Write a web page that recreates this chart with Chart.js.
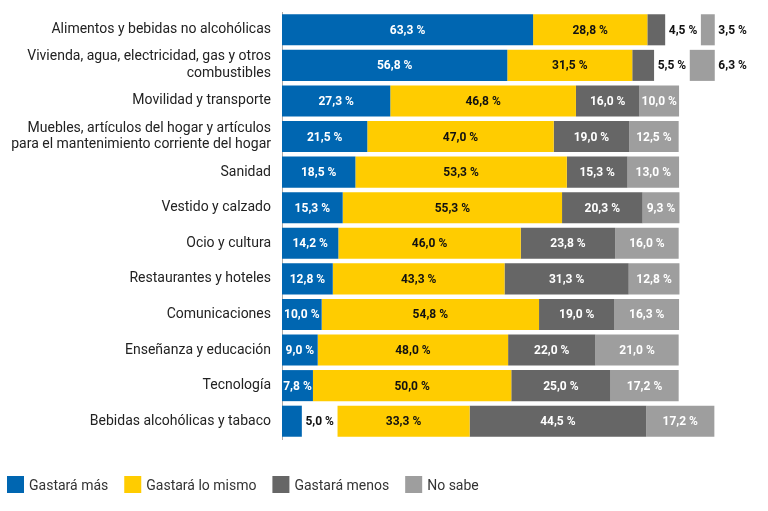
<!DOCTYPE html>
<html>
<head>
<meta charset="utf-8">
<script src="https://cdn.jsdelivr.net/npm/chart.js@4"></script>
<style>
  body { margin: 0; background: #fff; }
</style>
</head>
<body>
<canvas id="myChart" width="768" height="511"></canvas>
<script>
// Datos del gráfico
const categories = [
  "Alimentos y bebidas no alcohólicas",
  ["Vivienda, agua, electricidad, gas y otros", "combustibles"],
  "Movilidad y transporte",
  ["Muebles, artículos del hogar y artículos", "para el mantenimiento corriente del hogar"],
  "Sanidad",
  "Vestido y calzado",
  "Ocio y cultura",
  "Restaurantes y hoteles",
  "Comunicaciones",
  "Enseñanza y educación",
  "Tecnología",
  "Bebidas alcohólicas y tabaco"
];
const seriesNames = ["Gastará más", "Gastará lo mismo", "Gastará menos", "No sabe"];
const gastaraMas = [63.3, 56.8, 27.3, 21.5, 18.5, 15.3, 14.2, 12.8, 10.0, 9.0, 7.8, 5.0];
const gastaraLoMismo = [28.8, 31.5, 46.8, 47.0, 53.3, 55.3, 46.0, 43.3, 54.8, 48.0, 50.0, 33.3];
const gastaraMenos = [4.5, 5.5, 16.0, 19.0, 15.3, 20.3, 23.8, 31.3, 19.0, 22.0, 25.0, 44.5];
const noSabe = [3.5, 6.3, 10.0, 12.5, 13.0, 9.3, 16.0, 12.8, 16.3, 21.0, 17.2, 17.2];

const colors = ["#0066b1", "#ffcc00", "#666666", "#9e9e9e"];
const labelColors = ["#ffffff", "#111111", "#ffffff", "#ffffff"];

// valores pequeños llevan la etiqueta fuera, en un hueco
const SMALL = 7;
const LABEL_GAP = 9;

const allSeries = [gastaraMas, gastaraLoMismo, gastaraMenos, noSabe];
const datasets = [];
allSeries.forEach((values, s) => {
  datasets.push({
    label: seriesNames[s],
    data: values,
    backgroundColor: colors[s],
    labelColor: labelColors[s],
    borderWidth: 0
  });
  if (s < allSeries.length - 1) {
    datasets.push({
      label: "gap" + s,
      spacer: true,
      data: values.map((v) => (v < SMALL ? LABEL_GAP : 0)),
      backgroundColor: "rgba(0,0,0,0)",
      borderWidth: 0
    });
  }
});

const fmt = (v) => v.toFixed(1).replace(".", ",") + " %";

const valueLabels = {
  id: "valueLabels",
  afterDatasetsDraw(chart) {
    const ctx = chart.ctx;
    const xs = chart.scales.x;
    const gapPx = xs.getPixelForValue(LABEL_GAP) - xs.getPixelForValue(0);
    ctx.save();
    ctx.font = "bold 12px Roboto";
    ctx.textAlign = "center";
    ctx.textBaseline = "middle";
    chart.data.datasets.forEach((ds, di) => {
      if (ds.spacer) return;
      chart.getDatasetMeta(di).data.forEach((bar, i) => {
        const v = ds.data[i];
        let x, color;
        if (v >= SMALL) {
          x = (bar.x + bar.base) / 2;
          color = ds.labelColor;
        } else {
          x = bar.x + gapPx / 2;
          color = "#111111";
        }
        ctx.fillStyle = color;
        ctx.fillText(fmt(v), x, bar.y + 1);
      });
    });
    ctx.restore();
  }
};

const bottomLegend = {
  id: "bottomLegend",
  afterDraw(chart) {
    const ctx = chart.ctx;
    ctx.save();
    ctx.font = "14px Roboto";
    ctx.textBaseline = "middle";
    let x = 7;
    const y = 476;
    chart.data.datasets.forEach((ds) => {
      if (ds.spacer) return;
      ctx.fillStyle = ds.backgroundColor;
      ctx.fillRect(x, y, 17, 17);
      x += 22;
      ctx.fillStyle = "#333333";
      ctx.fillText(ds.label, x, y + 10);
      x += ctx.measureText(ds.label).width + 16;
    });
    ctx.restore();
  }
};

const ctx = document.getElementById("myChart").getContext("2d");
const myChart = new Chart(ctx, {
  type: "bar",
  data: { labels: categories, datasets: datasets },
  options: {
    indexAxis: "y",
    responsive: false,
    animation: false,
    categoryPercentage: 0.873,
    barPercentage: 1,
    layout: { padding: { top: 12, bottom: 72, left: 0, right: 10 } },
    scales: {
      x: { display: false, stacked: true, min: 0, max: 120 },
      y: {
        stacked: true,
        grid: { display: false, drawTicks: false },
        border: { display: true, color: "#aaaaaa", width: 1 },
        ticks: {
          autoSkip: false,
          padding: 11,
          color: "#222222",
          font: { family: "Roboto", size: 14 }
        },
        afterFit(scale) {
          scale.width = 282;
          scale.paddingTop = 0;
          scale.paddingBottom = 0;
        }
      }
    },
    plugins: {
      legend: { display: false },
      tooltip: {
        filter: (item) => !item.dataset.spacer,
        callbacks: {
          label: (c) => `${c.dataset.label}: ${fmt(c.raw)}`
        }
      }
    }
  },
  plugins: [valueLabels, bottomLegend]
});
</script>
</body>
</html>
